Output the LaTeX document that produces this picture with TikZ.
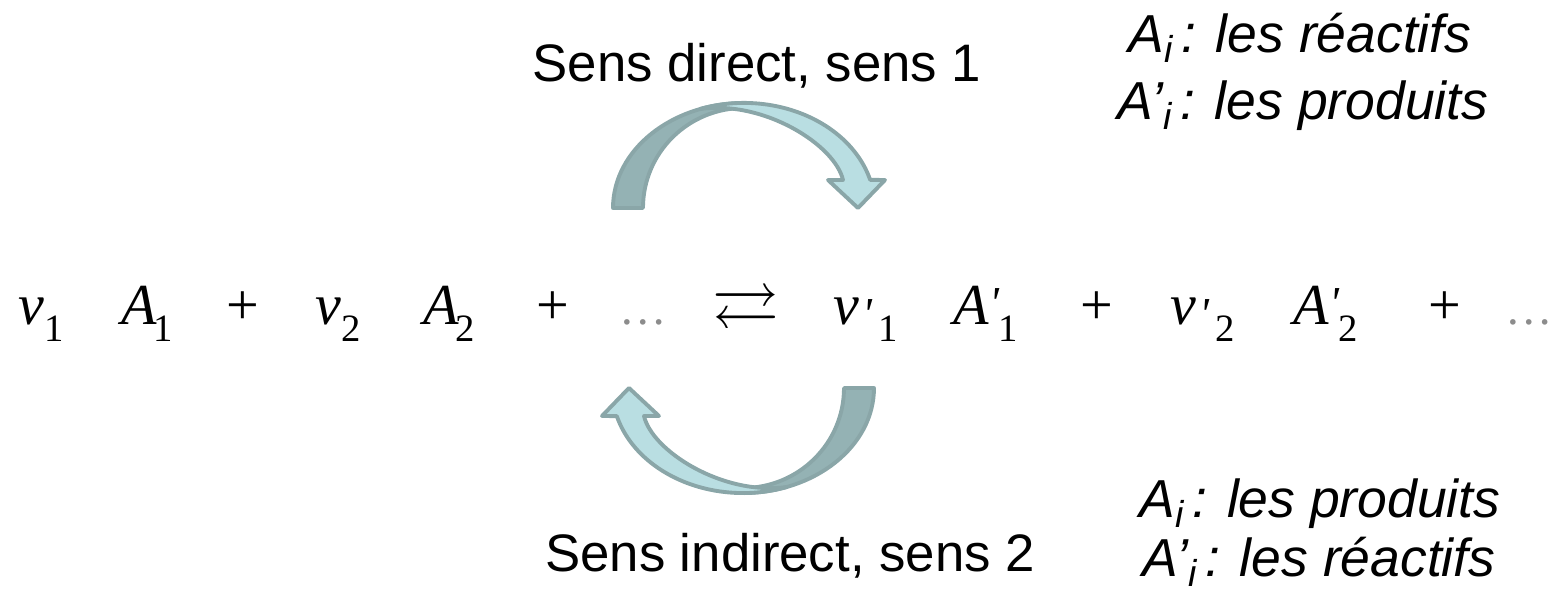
\documentclass[tikz,border=0pt]{standalone}
\usepackage{fontspec}
\usepackage{amssymb}
\setmainfont{Liberation Sans}
\newfontfamily\eqfont{Liberation Serif}
\usetikzlibrary{positioning}
\definecolor{sensdark}{RGB}{148,178,180}
\definecolor{senslight}{RGB}{185,222,226}
\definecolor{sensedge}{RGB}{138,166,168}
\newcommand\indice[1]{\raisebox{-4.8pt}{\fontsize{11pt}{12pt}\selectfont\upshape #1}}
\newcommand\prim{\raisebox{-1.2pt}{\fontsize{13pt}{14pt}\selectfont\itshape\textquotesingle}}

\begin{document}
\begin{tikzpicture}[
    x=0.01cm, y=0.01cm,
    terme/.style={anchor=base west, inner sep=0pt, font=\eqfont\fontsize{16.5pt}{19pt}\selectfont\itshape},
    signe/.style={anchor=base, inner sep=0pt, font=\eqfont\fontsize{16.5pt}{19pt}\selectfont},
    sens/.style={anchor=base, inner sep=0pt, font=\fontsize{15pt}{17pt}\selectfont},
    legende/.style={anchor=base, inner sep=0pt, font=\fontsize{15.2pt}{17pt}\selectfont\itshape},
    demiboucle/.pic={
        \filldraw[fill=sensdark, draw=sensedge, line width=1.1pt, line join=round]
            (-131,0) arc[start angle=180, end angle=90, x radius=131, y radius=105]
            -- (0,100) arc[start angle=90, end angle=180, x radius=101, y radius=100] -- cycle;
        \filldraw[fill=senslight, draw=sensedge, line width=1.1pt, line join=round]
            (-44,99) arc[start angle=109.6, end angle=15.5, x radius=131, y radius=105]
            -- (141,28) -- (114,0) -- (84,28) -- (99,28)
            .. controls (91,63) and (20,108) .. (-44,99) -- cycle;
    }
]
\useasboundingbox (0,0) rectangle (1559,594);

% equation
\node[terme] (nu1) at (18,269) {ν\indice{1}};
\node[terme] (a1) at (121,269) {A\kern-1pt\indice{1}};
\node[signe] (plus1) at (243,269) {+};
\node[terme] (nu2) at (315,269) {ν\indice{2}};
\node[terme] (a2) at (423,269) {A\kern-1pt\indice{2}};
\node[signe] (plus2) at (553,269) {+};
\node[signe, text=black!45, font=\eqfont\fontsize{13.5pt}{16pt}\selectfont] (suite1) at (643,269) {…};
\node[inner sep=0pt, font=\fontsize{19pt}{21pt}\selectfont] (fleches) at (746,282) {$\rightleftarrows$};
\node[terme] (nup1) at (833,269) {ν\kern1pt\prim\kern1.5pt\indice{1}};
\node[terme] (ap1) at (953,269) {A\raisebox{3pt}{\prim}\indice{1}};
\node[signe] (plus3) at (1097,269) {+};
\node[terme] (nup2) at (1170,269) {ν\kern1pt\prim\kern1.5pt\indice{2}};
\node[terme] (ap2) at (1293,269) {A\raisebox{3pt}{\prim}\indice{2}};
\node[signe] (plus4) at (1445,269) {+};
\node[signe, text=black!45, font=\eqfont\fontsize{13.5pt}{16pt}\selectfont] (suite2) at (1529,269) {…};

% sens 1 et sens 2
\pic (boucle1) at (744,386) {demiboucle};
\pic[rotate=180] (boucle2) at (743,206) {demiboucle};
\node[sens] (direct) at (757,512) {Sens direct, sens 1};
\node[sens] (indirect) at (790,22) {Sens indirect, sens 2};

% legendes
\node[legende] (react1) at (1300,541) {A\textsubscript{i}\kern2pt: les réactifs};
\node[legende] (prod1) at (1303,474) {A’\textsubscript{i}\kern2pt: les produits};
\node[legende] (prod2) at (1320,76) {A\textsubscript{i}\kern2pt: les produits};
\node[legende] (react2) at (1319,17) {A’\textsubscript{i}\kern2pt: les réactifs};
\end{tikzpicture}
\end{document}
